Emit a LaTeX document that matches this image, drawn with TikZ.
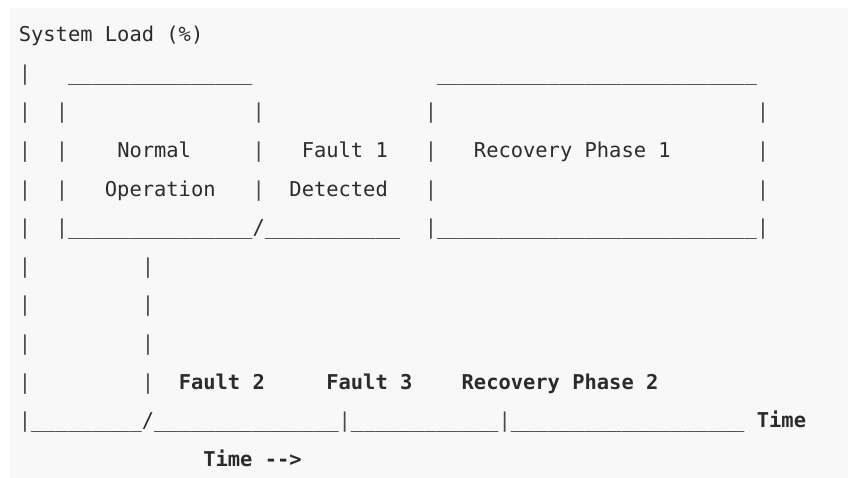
\documentclass[tikz,border=0pt]{standalone}
\usepackage{fontspec}
\setmonofont{DejaVu Sans Mono}
\definecolor{ink}{HTML}{2B2B2B}
\definecolor{bar}{HTML}{4A4A4A}
\definecolor{bg}{HTML}{F8F8F8}
\tikzset{
  tok/.style={font=\ttfamily\fontsize{20.43}{24}\selectfont, text=ink, inner sep=0pt, outer sep=0pt, anchor=base west},
  btok/.style={tok, font=\ttfamily\bfseries\fontsize{20.43}{24}\selectfont},
  vtok/.style={tok, text=bar},
}
\ExplSyntaxOn
\cs_new:Npn \uscore #1 { \prg_replicate:nn {#1} { \textunderscore } }
\ExplSyntaxOff
% \tk[style]{name}{column}{row}{text}
\newcommand\tk[5][tok]{\node[#1] (#2) at ({18.85+#3*12.3},{41.8+#4*38.6}) {#5};}
\begin{document}
\begin{tikzpicture}[x=1pt,y=-1pt]
\fill[white] (0,0) rectangle (855,478);
\fill[bg] (10,8) rectangle (848,478);
\useasboundingbox (0,0) rectangle (855,478);
% row 0
\tk{title}{0}{0}{System Load (\%)}
% row 1
\tk[vtok]{a1}{0}{1}{|}
\tk{top1}{4}{1}{\uscore{15}}
\tk{top2}{34}{1}{\uscore{26}}
% row 2
\tk[vtok]{a2}{0}{2}{|}
\tk[vtok]{b2}{3}{2}{|}
\tk[vtok]{c2}{19}{2}{|}
\tk[vtok]{d2}{33}{2}{|}
\tk[vtok]{e2}{60}{2}{|}
% row 3
\tk[vtok]{a3}{0}{3}{|}
\tk[vtok]{b3}{3}{3}{|}
\tk{normal}{8}{3}{Normal}
\tk[vtok]{c3}{19}{3}{|}
\tk{fault1}{23}{3}{Fault 1}
\tk[vtok]{d3}{33}{3}{|}
\tk{rec1}{37}{3}{Recovery Phase 1}
\tk[vtok]{e3}{60}{3}{|}
% row 4
\tk[vtok]{a4}{0}{4}{|}
\tk[vtok]{b4}{3}{4}{|}
\tk{oper}{7}{4}{Operation}
\tk[vtok]{c4}{19}{4}{|}
\tk{detected}{22}{4}{Detected}
\tk[vtok]{d4}{33}{4}{|}
\tk[vtok]{e4}{60}{4}{|}
% row 5
\tk[vtok]{a5}{0}{5}{|}
\tk[vtok]{b5}{3}{5}{|}
\tk{bot1}{4}{5}{\uscore{15}}
\tk{sl1}{19}{5}{/}
\tk{bot2}{20}{5}{\uscore{11}}
\tk[vtok]{d5}{33}{5}{|}
\tk{bot3}{34}{5}{\uscore{26}}
\tk[vtok]{e5}{60}{5}{|}
% rows 6-8
\tk[vtok]{a6}{0}{6}{|}
\tk[vtok]{b6}{10}{6}{|}
\tk[vtok]{a7}{0}{7}{|}
\tk[vtok]{b7}{10}{7}{|}
\tk[vtok]{a8}{0}{8}{|}
\tk[vtok]{b8}{10}{8}{|}
% row 9
\tk[vtok]{a9}{0}{9}{|}
\tk[vtok]{b9}{10}{9}{|}
\tk[btok]{fault2}{13}{9}{Fault 2}
\tk[btok]{fault3}{25}{9}{Fault 3}
\tk[btok]{rec2}{36}{9}{Recovery Phase 2}
% row 10
\tk[vtok]{a10}{0}{10}{|}
\tk{ax1}{1}{10}{\uscore{9}}
\tk{sl2}{10}{10}{/}
\tk{ax2}{11}{10}{\uscore{15}}
\tk[vtok]{m1}{26}{10}{|}
\tk{ax3}{27}{10}{\uscore{12}}
\tk[vtok]{m2}{39}{10}{|}
\tk{ax4}{40}{10}{\uscore{19}}
\tk[btok]{time}{60}{10}{Time}
% row 11
\tk[btok]{timearrow}{15}{11}{Time -\kern0pt-\kern0pt>}
\end{tikzpicture}
\end{document}
